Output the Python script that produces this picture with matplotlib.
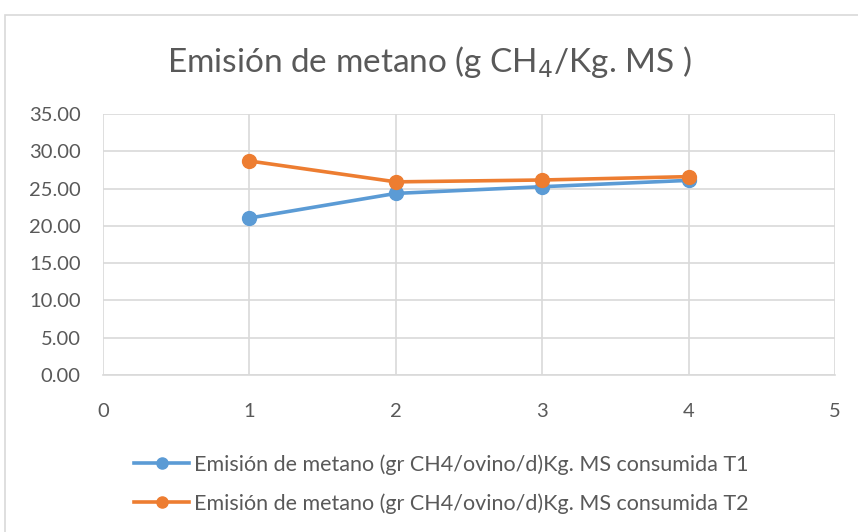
import matplotlib
matplotlib.use("Agg")
import matplotlib.pyplot as plt
from matplotlib.patches import Rectangle

plt.rcParams['font.family'] = ['Lato', 'DejaVu Sans']

# datos de emision de metano por tratamiento
x_vals = [1, 2, 3, 4]
t1_vals = [21.05, 24.35, 25.25, 26.10]
t2_vals = [28.70, 25.90, 26.15, 26.60]
y_ticks = [0, 5, 10, 15, 20, 25, 30, 35]
x_ticks = [0, 1, 2, 3, 4, 5]
lbl_t1 = "Emisión de metano (gr CH4/ovino/d)Kg. MS consumida T1"
lbl_t2 = "Emisión de metano (gr CH4/ovino/d)Kg. MS consumida T2"

azul = "#5b9bd5"
naranja = "#ed7d31"
gris_txt = "#595959"
gris_grid = "#d9d9d9"

fig = plt.figure(figsize=(8.58, 5.32), dpi=100)
# marco del grafico
fig.patches.append(Rectangle((5 / 858, -0.01), 1.0, 1 - 15 / 532 + 0.01,
                             transform=fig.transFigure, fill=False,
                             edgecolor=gris_grid, lw=1.2))

ax = fig.add_axes([103 / 858, 1 - 375 / 532, (835 - 103) / 858, (375 - 114) / 532])
ax.plot(x_vals, t1_vals, color=azul, lw=2.6, marker='o', ms=10, label=lbl_t1, zorder=3)
ax.plot(x_vals, t2_vals, color=naranja, lw=2.6, marker='o', ms=10, label=lbl_t2, zorder=3)

ax.set_xlim(0, 5)
ax.set_ylim(0, 35)
ax.set_xticks(x_ticks)
ax.set_yticks(y_ticks)
ax.set_yticklabels([f"{v:.2f}" for v in y_ticks])
ax.grid(True, color=gris_grid, lw=1.2)
ax.set_axisbelow(True)
for s in ax.spines.values():
    s.set_visible(False)
ax.spines['bottom'].set_visible(True)
ax.spines['bottom'].set_color(gris_grid)
ax.spines['bottom'].set_linewidth(1.2)
ax.tick_params(length=0, labelsize=14.5, colors=gris_txt)
ax.tick_params(axis='y', pad=16)
ax.tick_params(axis='x', pad=20)

fig.text(0.5, 1 - 62 / 532, "Emisión de metano (g CH$_4$/Kg. MS )", ha='center', va='center',
         fontsize=24, color=gris_txt)

leg = fig.legend(loc='upper left', bbox_to_anchor=(115 / 858, 1 - 435 / 532), frameon=False,
                 fontsize=15.5, labelcolor=gris_txt, handlelength=2.55, handletextpad=0.2,
                 labelspacing=0.85, markerscale=0.8)

fig.savefig("out.png", dpi=100)
